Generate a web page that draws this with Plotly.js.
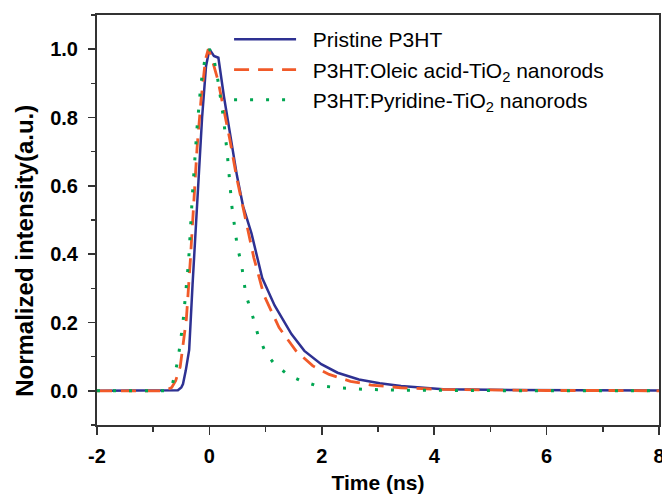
<!DOCTYPE html>
<html>
<head>
<meta charset="utf-8">
<script src="https://cdn.plot.ly/plotly-3.0.1.min.js"></script>
<style>html,body{margin:0;padding:0;background:#fff;}#chart{width:662px;height:494px;}</style>
</head>
<body>
<div id="chart"></div>
<script>
// Pristine P3HT
const pristineX = [-2, -1, -0.6, -0.56, -0.5, -0.47, -0.42, -0.36, -0.3, -0.25, -0.19, -0.13, -0.06, 0, 0.08, 0.16, 0.26, 0.37, 0.49, 0.6, 0.75, 0.94, 1.16, 1.46, 1.69, 1.99, 2.28, 2.66, 3.03, 3.41, 3.78, 4.16, 5, 6, 7, 8];
const pristineY = [0, 0, 0, 0.002, 0.01, 0.02, 0.06, 0.12, 0.31, 0.46, 0.64, 0.80, 0.95, 1.0, 0.98, 0.975, 0.86, 0.75, 0.63, 0.54, 0.46, 0.33, 0.25, 0.166, 0.117, 0.078, 0.053, 0.033, 0.022, 0.014, 0.009, 0.005, 0.003, 0.002, 0.002, 0.001];
// P3HT:Oleic acid-TiO2 nanorods
const oleicX = [-2, -0.8, -0.67, -0.6, -0.52, -0.41, -0.34, -0.28, -0.22, -0.15, -0.07, -0.02, 0.04, 0.15, 0.26, 0.37, 0.49, 0.64, 0.79, 0.97, 1.24, 1.54, 1.84, 2.13, 2.51, 2.88, 3.41, 4.16, 5, 6, 7, 8];
const oleicY = [0, 0, 0.01, 0.03, 0.07, 0.21, 0.38, 0.54, 0.71, 0.85, 0.97, 1.0, 0.975, 0.91, 0.82, 0.73, 0.62, 0.50, 0.39, 0.28, 0.185, 0.117, 0.073, 0.048, 0.028, 0.017, 0.009, 0.004, 0.002, 0.001, 0.001, 0];
// P3HT:Pyridine-TiO2 nanorods
const pyridineX = [-2, -0.8, -0.67, -0.56, -0.47, -0.37, -0.30, -0.22, -0.15, -0.07, 0, 0.07, 0.15, 0.25, 0.32, 0.40, 0.49, 0.58, 0.65, 0.75, 0.86, 1.0, 1.16, 1.39, 1.61, 1.87, 2.28, 2.81, 3.41, 4.5, 6, 8];
const pyridineY = [0, 0, 0.01, 0.09, 0.2, 0.38, 0.58, 0.77, 0.9, 0.98, 1.0, 0.98, 0.91, 0.80, 0.69, 0.54, 0.43, 0.36, 0.28, 0.23, 0.166, 0.112, 0.078, 0.048, 0.031, 0.017, 0.009, 0.004, 0.002, 0.001, 0, 0];

const seriesNames = ["Pristine P3HT", "P3HT:Oleic acid-TiO<sub>2</sub> nanorods", "P3HT:Pyridine-TiO<sub>2</sub> nanorods"];
const xTickVals = [-2, 0, 2, 4, 6, 8];
const xTickText = ["-2", "0", "2", "4", "6", "8"];
const yTickVals = [0, 0.2, 0.4, 0.6, 0.8, 1.0];
const yTickText = ["0.0", "0.2", "0.4", "0.6", "0.8", "1.0"];

const pad = '\u00a0\u00a0';
const traces = [
  {x: pristineX, y: pristineY, name: pad + seriesNames[0], mode: 'lines', legendgroup: 'a',
   line: {color: '#2E3192', width: 2.5}},
  {x: oleicX, y: oleicY, name: pad + seriesNames[1], mode: 'lines', legendgroup: 'b',
   line: {color: '#F15A29', width: 2.8, dash: '15px,9px'}},
  {x: pyridineX, y: pyridineY, name: pad + seriesNames[2], mode: 'lines', legendgroup: 'c',
   line: {color: '#00A651', width: 3, dash: '3px,13px'}}
];

const tickFont = {family: 'Liberation Sans, Arial, sans-serif', size: 20, color: '#000', weight: 'bold'};

const layout = {
  width: 662, height: 494,
  margin: {l: 97, r: 3, t: 15, b: 69, pad: 0},
  paper_bgcolor: '#fff', plot_bgcolor: '#fff',
  showlegend: true,
  legend: {x: 0.235, y: 0.99, xanchor: 'left', yanchor: 'top', bgcolor: 'rgba(0,0,0,0)',
    font: {family: 'Liberation Sans, Arial, sans-serif', size: 21, color: '#000'},
    itemwidth: 62, tracegroupgap: 0, traceorder: 'grouped'},
  xaxis: {
    range: [-2, 8], tickvals: xTickVals, ticktext: xTickText, ticks: 'outside', ticklen: 8, tickwidth: 1.5, tickcolor: '#333',
    showline: true, linecolor: '#333', linewidth: 2, mirror: true, showgrid: false, zeroline: false,
    tickfont: tickFont, ticklabelstandoff: 4, ticklabeloverflow: 'allow',
    minor: {dtick: 1, tick0: -1, ticks: 'outside', ticklen: 5, tickwidth: 1.5, tickcolor: '#333', showgrid: false},
    title: {text: 'Time (ns)', font: {family: 'Liberation Sans, Arial, sans-serif', size: 21, color: '#000', weight: 'bold'}, standoff: 9}
  },
  yaxis: {
    range: [-0.1, 1.1], tickvals: yTickVals, ticktext: yTickText, ticks: 'outside', ticklen: 7, tickwidth: 1.5, tickcolor: '#333',
    showline: true, linecolor: '#333', linewidth: 2, mirror: true, showgrid: false, zeroline: false,
    tickfont: tickFont, ticklabelstandoff: 6,
    minor: {dtick: 0.1, tick0: 0.1, ticks: 'outside', ticklen: 4, tickwidth: 1.5, tickcolor: '#333', showgrid: false}
  },
  annotations: [{
    text: 'Normalized intensity(a.u.)', textangle: -90, xref: 'paper', yref: 'paper',
    x: -0.128, y: 0.425, xanchor: 'center', yanchor: 'middle', showarrow: false,
    font: {family: 'Liberation Sans, Arial, sans-serif', size: 24, color: '#000', weight: 'bold'}
  }]
};

Plotly.newPlot('chart', traces, layout, {displayModeBar: false, staticPlot: true});
</script>
</body>
</html>
